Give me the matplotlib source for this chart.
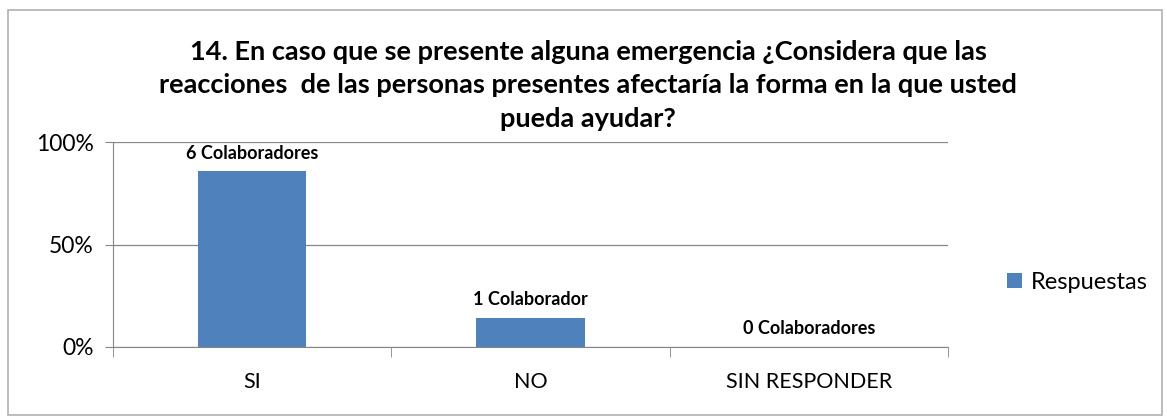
import matplotlib.pyplot as plt
from matplotlib.patches import Rectangle
from matplotlib.ticker import PercentFormatter

categories = ['SI', 'NO', 'SIN RESPONDER']
counts = [6, 1, 0]
bar_labels = ['6 Colaboradores', '1 Colaborador', '0 Colaboradores']
total = sum(counts)
shares = [c / total for c in counts]

title = ('14. En caso que se presente alguna emergencia ¿Considera que las\n'
         'reacciones  de las personas presentes afectaría la forma en la que usted\n'
         'pueda ayudar?')

plt.rcParams['font.family'] = ['Lato', 'DejaVu Sans']
blue = '#4f81bd'
grey = '#868686'

fig = plt.figure(figsize=(11.67, 4.18), dpi=100)
fig.patches.append(Rectangle((8 / 1167, 3 / 418), 1154 / 1167, 405 / 418,
                             transform=fig.transFigure, fill=False,
                             edgecolor='#b0b0b0', lw=1.2))

ax = fig.add_axes([0.0968, 0.170, 0.7155, 0.490])
x = range(len(categories))
bars = ax.bar(x, shares, width=0.39, color=blue, label='Respuestas', zorder=3)

for b, lab in zip(bars, bar_labels):
    ax.annotate(lab, (b.get_x() + b.get_width() / 2, b.get_height()),
                xytext=(0, 7), textcoords='offset points', ha='center',
                va='bottom', fontsize=13, fontweight='bold')

ax.set_xlim(-0.5, 2.5)
ax.set_ylim(0, 1)
ax.set_yticks([0, 0.5, 1])
ax.yaxis.set_major_formatter(PercentFormatter(1, decimals=0))
ax.set_xticks(list(x))
ax.set_xticklabels(categories)
ax.set_xticks([-0.5, 0.5, 1.5, 2.5], minor=True)
ax.tick_params(axis='x', which='major', length=0, pad=18, labelsize=15.5)
ax.tick_params(axis='x', which='minor', length=7, color=grey)
ax.tick_params(axis='y', length=6, color=grey, labelsize=16.5, pad=8)
ax.grid(axis='y', color=grey, lw=0.9, zorder=0)

for s in ['top', 'right']:
    ax.spines[s].set_visible(False)
for s in ['left', 'bottom']:
    ax.spines[s].set_color(grey)

fig.text(0.504, 0.905, title, ha='center', va='top', fontsize=19.5,
         fontweight='bold', linespacing=1.48)

fig.legend(handles=[bars], labels=['Respuestas'], loc='center left',
           bbox_to_anchor=(0.845, 0.325), frameon=False, fontsize=17,
           handlelength=0.6, handleheight=0.6, handletextpad=0.4)

fig.savefig('out.png', dpi=100)
